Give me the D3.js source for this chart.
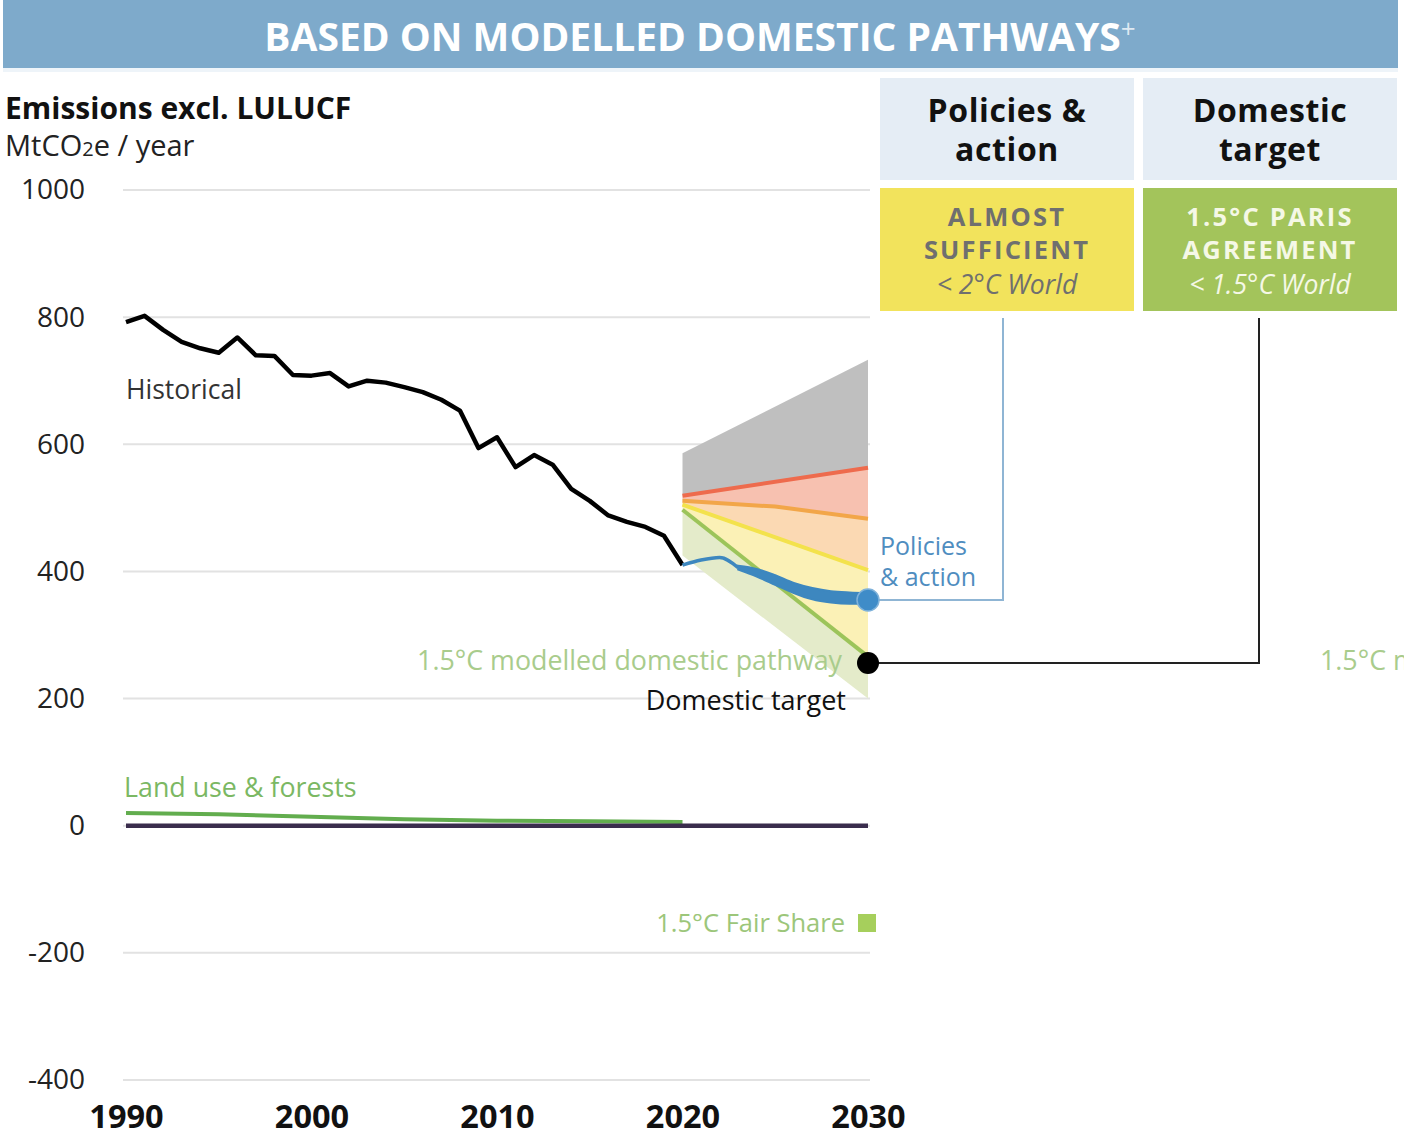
<!DOCTYPE html>
<html>
<head>
<meta charset="utf-8">
<script src="https://cdn.jsdelivr.net/npm/d3@7"></script>
<style>
  html, body { margin: 0; padding: 0; background: #fff; }
  svg { display: block; font-family: "Open Sans", "Noto Sans", sans-serif; }
</style>
</head>
<body>
<svg id="chart" width="1404" height="1138"></svg>
<script>
// ---------- data ----------
const histYears = [1990,1991,1992,1993,1994,1995,1996,1997,1998,1999,2000,2001,2002,2003,2004,2005,2006,2007,2008,2009,2010,2011,2012,2013,2014,2015,2016,2017,2018,2019,2020];
const histValues = [792,802,780,761,751,744,768,740,739,709,708,712,691,700,697,690,682,670,653,594,611,564,583,568,530,511,488,478,470,456,410];

const landYears = [1990,1995,2000,2005,2010,2015,2020];
const landValues = [20,18,14,10,8,7,6];

const zeroYears = [1990,2030];
const zeroValues = [0,0];

const fanYears = [2020,2030];
const grayTop = [586,733];
const redLine = [519,563];
const orangeYears = [2020,2025,2030];
const orangeLine = [511,502,483];
const yellowLine = [505,402];
const greenLine = [497,266];
const greenLow = [425,200];

const policyThinYears = [2020,2021,2022,2023];
const policyThinValues = [410,418,422,406];
const policyBandYears = [2023,2024,2025,2026,2027,2028,2029,2030];
const policyBandHigh = [409,404,394,382,374,369,367,366];
const policyBandLow = [403,392,379,366,356,351,349,349];

const policyEnd = {year:2030, value:355};
const targetEnd = {year:2030, value:256};

const yTicks = [1000,800,600,400,200,0,-200,-400];
const xTicks = [1990,2000,2010,2020,2030];

// ---------- setup ----------
const svg = d3.select("#chart");
const x = d3.scaleLinear().domain([1990,2030]).range([126,868]);
const y = d3.scaleLinear().domain([-400,1000]).range([1080,190]);

const pts = (years, vals) => years.map((yr,i)=>[x(yr), y(vals[i])]);
const line = d3.line();
const smooth = d3.line().curve(d3.curveMonotoneX);

// ---------- title banner ----------
svg.append("rect").attr("x",3).attr("y",0).attr("width",1395).attr("height",68).attr("fill","#7eaacb");
svg.append("rect").attr("x",3).attr("y",68).attr("width",1395).attr("height",4).attr("fill","#eef4f9");
const title = svg.append("text").attr("x",700).attr("y",51).attr("text-anchor","middle")
  .attr("fill","#ffffff").attr("font-weight",700).attr("font-size",39)
  .text("BASED ON MODELLED DOMESTIC PATHWAYS");
title.append("tspan").attr("dy",-13).attr("font-size",26).attr("font-weight",400).attr("fill","#dfe9f2").text("+");

// ---------- axis title ----------
svg.append("text").attr("x",5).attr("y",119).attr("font-size",30).attr("font-weight",700).attr("fill","#111")
  .text("Emissions excl. LULUCF");
const unit = svg.append("text").attr("x",5).attr("y",156).attr("font-size",29).attr("fill","#222");
unit.append("tspan").text("MtCO");
unit.append("tspan").attr("font-size",20).text("2");
unit.append("tspan").text("e / year");

// ---------- grid ----------
svg.append("g").selectAll("line").data(yTicks).join("line")
  .attr("x1",123).attr("x2",870)
  .attr("y1",d=>y(d)).attr("y2",d=>y(d))
  .attr("stroke","#e2e2e2").attr("stroke-width",2);

// ---------- y axis ----------
const yAxis = svg.append("g").attr("transform","translate(85,0)")
  .call(d3.axisLeft(y).tickValues(yTicks).tickSize(0).tickPadding(0).tickFormat(d=>String(d)));
yAxis.select(".domain").remove();
yAxis.selectAll("text").attr("font-size",28).attr("fill","#222").attr("font-family","'Open Sans', sans-serif");

// ---------- x axis ----------
const xAxis = svg.append("g").attr("transform","translate(0,1128)")
  .call(d3.axisBottom(x).tickValues(xTicks).tickSize(0).tickPadding(0).tickFormat(d3.format("d")));
xAxis.select(".domain").remove();
xAxis.selectAll("text").attr("font-size",32.5).attr("font-weight",700).attr("fill","#111")
  .attr("font-family","'Open Sans', sans-serif").attr("dy","0");

// ---------- fan ----------
function band(upYears, upVals, loYears, loVals, fill){
  const p = pts(upYears, upVals).concat(pts(loYears, loVals).reverse());
  svg.append("path").attr("d", line(p) + "Z").attr("fill", fill);
}
band(fanYears, grayTop, fanYears, redLine, "#bfbfbf");
band(fanYears, redLine, orangeYears, orangeLine, "#f7c1b0");
band(orangeYears, orangeLine, fanYears, yellowLine, "#fbd9b3");
band(fanYears, yellowLine, fanYears, greenLine, "#fbf1b6");
band(fanYears, greenLine, fanYears, greenLow, "#e4ebca");

const fanLine = (yrs, vals, color) => svg.append("path").attr("d", line(pts(yrs, vals)))
  .attr("fill","none").attr("stroke",color).attr("stroke-width",4);
fanLine(fanYears, redLine, "#ee6b4d");
fanLine(orangeYears, orangeLine, "#f2a649");
fanLine(fanYears, yellowLine, "#f3e24c");
fanLine(fanYears, greenLine, "#9cc45a");

// ---------- land use & zero line ----------
svg.append("path").attr("d", line(pts(landYears, landValues))).attr("fill","none")
  .attr("stroke","#62ad4e").attr("stroke-width",4);
svg.append("path").attr("d", line(pts(zeroYears, zeroValues))).attr("fill","none")
  .attr("stroke","#3a2d4d").attr("stroke-width",4.5);

// ---------- historical ----------
svg.append("path").attr("d", line(pts(histYears, histValues))).attr("fill","none")
  .attr("stroke","#000").attr("stroke-width",4.5).attr("stroke-linejoin","round");

// ---------- policies & action ----------
svg.append("path").attr("d", smooth(pts(policyThinYears, policyThinValues))).attr("fill","none")
  .attr("stroke","#3d87bf").attr("stroke-width",3.5);
const bandArea = d3.area().curve(d3.curveMonotoneX)
  .x((d,i)=>x(policyBandYears[i])).y0((d,i)=>y(policyBandLow[i])).y1((d,i)=>y(policyBandHigh[i]));
svg.append("path").attr("d", bandArea(policyBandYears)).attr("fill","#3d87bf")
  .attr("stroke","#3d87bf").attr("stroke-width",2);

// ---------- leader lines ----------
svg.append("path").attr("d", line([[x(policyEnd.year), y(policyEnd.value)],[1003, y(policyEnd.value)],[1003,318]]))
  .attr("fill","none").attr("stroke","#8fb5d4").attr("stroke-width",2);
svg.append("path").attr("d", line([[x(targetEnd.year), y(targetEnd.value)],[1259, y(targetEnd.value)],[1259,318]]))
  .attr("fill","none").attr("stroke","#222").attr("stroke-width",2);

svg.append("circle").attr("cx",x(policyEnd.year)).attr("cy",y(policyEnd.value)).attr("r",11)
  .attr("fill","#3f8cc8").attr("stroke","#7fb2da").attr("stroke-width",1.5);
svg.append("circle").attr("cx",x(targetEnd.year)).attr("cy",y(targetEnd.value)).attr("r",11).attr("fill","#000");

// ---------- labels ----------
svg.append("text").attr("x",126).attr("y",399).attr("font-size",26.5).attr("fill","#333").text("Historical");
svg.append("text").attr("x",880).attr("y",555).attr("font-size",25).attr("fill","#4f8dbf").text("Policies");
svg.append("text").attr("x",880).attr("y",586).attr("font-size",25).attr("fill","#4f8dbf").text("& action");
svg.append("text").attr("x",842).attr("y",670).attr("text-anchor","end").attr("font-size",26.8)
  .attr("fill","#a9cc8c").text("1.5°C modelled domestic pathway");
svg.append("text").attr("x",846).attr("y",710).attr("text-anchor","end").attr("font-size",27)
  .attr("fill","#111").text("Domestic target");
svg.append("text").attr("x",124).attr("y",797).attr("font-size",26.8).attr("fill","#7bb863").text("Land use & forests");
svg.append("text").attr("x",845).attr("y",932).attr("text-anchor","end").attr("font-size",25.5)
  .attr("fill","#9cc67a").text("1.5°C Fair Share");
svg.append("rect").attr("x",858).attr("y",914).attr("width",18).attr("height",18).attr("fill","#a6cf5c");

svg.append("defs").append("clipPath").attr("id","rightclip")
  .append("rect").attr("x",1300).attr("y",630).attr("width",104).attr("height",60);
svg.append("text").attr("clip-path","url(#rightclip)").attr("x",1320).attr("y",670).attr("font-size",26.8)
  .attr("fill","#a9cc8c").text("1.5°C modelled domestic pathway");

// ---------- rating boxes ----------
const boxes = [
  {x:880, head:["Policies &","action"], fill:"#f2e35c", txtColor:"#6f6f6f", lines:["ALMOST","SUFFICIENT"], it:"< 2°C World"},
  {x:1143, head:["Domestic","target"], fill:"#a3c45b", txtColor:"#f5f8e6", lines:["1.5°C PARIS","AGREEMENT"], it:"< 1.5°C World"}
];
boxes.forEach(b=>{
  svg.append("rect").attr("x",b.x).attr("y",78).attr("width",254).attr("height",102).attr("fill","#e5edf5");
  const cx = b.x + 127;
  svg.append("text").attr("x",cx).attr("y",122).attr("text-anchor","middle").attr("font-size",32)
    .attr("font-weight",700).attr("letter-spacing",0.6).attr("fill","#111").text(b.head[0]);
  svg.append("text").attr("x",cx).attr("y",161).attr("text-anchor","middle").attr("font-size",32)
    .attr("font-weight",700).attr("letter-spacing",0.6).attr("fill","#111").text(b.head[1]);
  svg.append("rect").attr("x",b.x).attr("y",188).attr("width",254).attr("height",123).attr("fill",b.fill);
  svg.append("text").attr("x",cx).attr("y",226).attr("text-anchor","middle").attr("font-size",25.5)
    .attr("font-weight",700).attr("letter-spacing",2.2).attr("fill",b.txtColor).text(b.lines[0]);
  svg.append("text").attr("x",cx).attr("y",259).attr("text-anchor","middle").attr("font-size",25.5)
    .attr("font-weight",700).attr("letter-spacing",2.2).attr("fill",b.txtColor).text(b.lines[1]);
  svg.append("text").attr("x",cx).attr("y",294).attr("text-anchor","middle").attr("font-size",26.5)
    .attr("font-style","italic").attr("fill",b.txtColor).text(b.it);
});
</script>
</body>
</html>
